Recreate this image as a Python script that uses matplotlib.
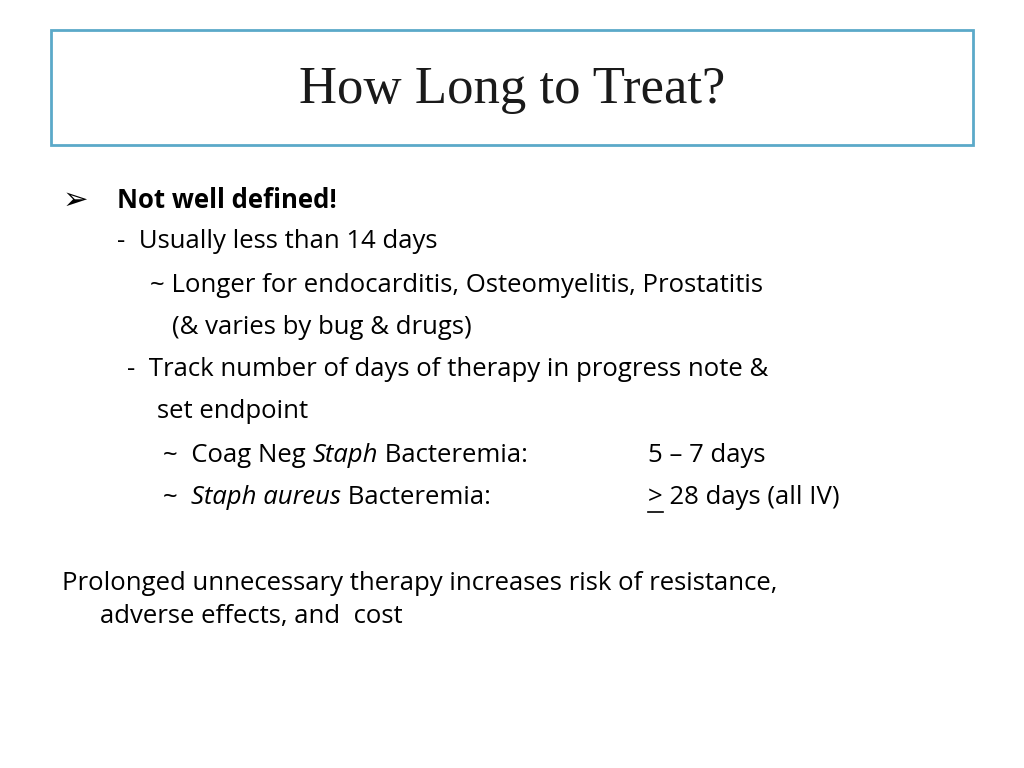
import matplotlib
matplotlib.use("Agg")
import matplotlib.pyplot as plt
from matplotlib.patches import Rectangle
from matplotlib.lines import Line2D

W, H = 1024, 768
title = "How Long to Treat?"
lines = [
    (117, 200, [("Not well defined!", "bold")]),
    (117, 242, [("-  Usually less than 14 days", "normal")]),
    (150, 285, [("~ Longer for endocarditis, Osteomyelitis, Prostatitis", "normal")]),
    (172, 327, [("(& varies by bug & drugs)", "normal")]),
    (127, 370, [("-  Track number of days of therapy in progress note &", "normal")]),
    (157, 412, [("set endpoint", "normal")]),
    (163, 455, [("~  Coag Neg ", "normal"), ("Staph", "italic"), (" Bacteremia:", "normal")]),
    (163, 497, [("~  ", "normal"), ("Staph aureus", "italic"), (" Bacteremia:", "normal")]),
    (62, 583, [("Prolonged unnecessary therapy increases risk of resistance,", "normal")]),
    (100, 617, [("adverse effects, and  cost", "normal")]),
]
durations = [(648, 455, "5 – 7 days"), (648, 497, "> 28 days (all IV)")]

fig = plt.figure(figsize=(10.24, 7.68), dpi=100)
fig.patch.set_facecolor("white")
fx = lambda x: x / W
fy = lambda y: 1 - y / H

fig.patches.append(Rectangle((fx(51), fy(145)), (973 - 51) / W, (145 - 30) / H,
                             transform=fig.transFigure, fill=False,
                             edgecolor="#5BA9C9", linewidth=2))
fig.text(fx(512), fy(90), title, ha="center", va="center",
         fontsize=38, family="Liberation Serif", color="#1a1a1a")

fs = 18.5
fam = "Open Sans"
fig.text(fx(63), fy(200), "\u27a2", fontsize=22, family="DejaVu Sans", va="center")
fig.canvas.draw()
r = fig.canvas.get_renderer()
for x, y, segs in lines:
    cx = x
    for txt, st in segs:
        t = fig.text(fx(cx), fy(y), txt, fontsize=fs, family=fam, va="center",
                     fontweight="bold" if st == "bold" else "normal",
                     fontstyle="italic" if st == "italic" else "normal")
        bb = t.get_window_extent(r)
        cx += bb.width
for x, y, txt in durations:
    t = fig.text(fx(x), fy(y), txt, fontsize=fs, family=fam, va="center")
    if txt.startswith(">"):
        g = fig.text(fx(x), fy(y), ">", fontsize=fs, family=fam, va="center", alpha=0)
        bb = g.get_window_extent(r)
        fig.add_artist(Line2D([fx(x), fx(x + bb.width)], [fy(y + 15), fy(y + 15)],
                              transform=fig.transFigure, color="black", lw=1.2))
fig.savefig("out.png", dpi=100)
